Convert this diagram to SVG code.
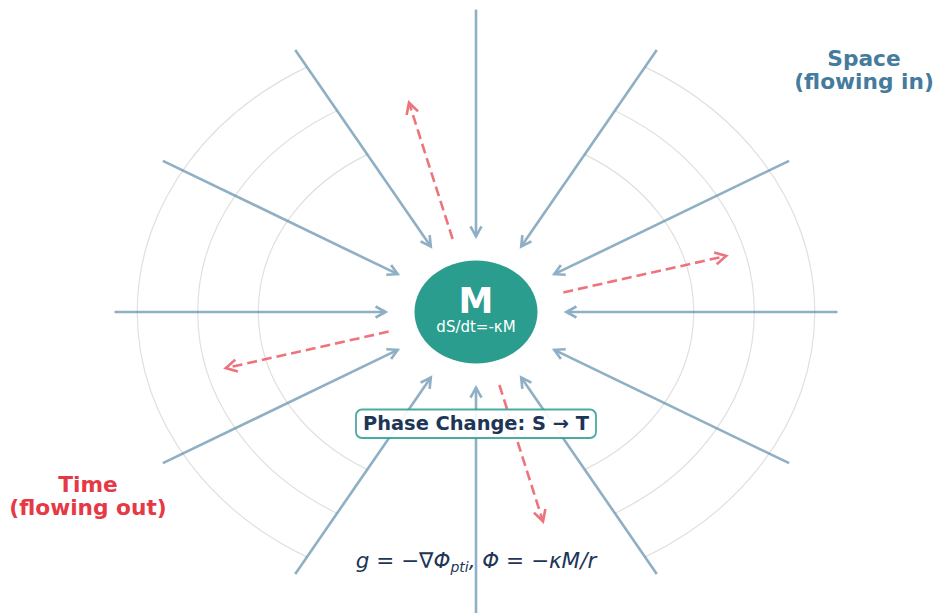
<svg xmlns="http://www.w3.org/2000/svg" width="936" height="613" viewBox="0 0 936 613">
<style>
.ring{fill:none;stroke:#e0e0e0;stroke-width:1.2}
.space line{stroke:#457b9d;stroke-width:2.6;marker-end:url(#hb)}
.time line{stroke:#e63946;stroke-width:2.6;stroke-dasharray:10 5;marker-end:url(#hr)}
.lbl{font-family:"DejaVu Sans",sans-serif;font-weight:bold;text-anchor:middle}
</style>
<defs>
<marker id="hb" markerUnits="userSpaceOnUse" viewBox="-12 -7 14 14" refX="0" refY="0" markerWidth="14" markerHeight="14" orient="auto" overflow="visible">
<path d="M-10,-5.5 L0,0 L-10,5.5" fill="none" stroke="#457b9d" stroke-width="2.6" stroke-linejoin="miter"/>
</marker>
<marker id="hr" markerUnits="userSpaceOnUse" viewBox="-12 -7 14 14" refX="0" refY="0" markerWidth="14" markerHeight="14" orient="auto" overflow="visible">
<path d="M-11,-6 L0,0 L-11,6" fill="none" stroke="#e63946" stroke-width="2.6"/>
</marker>
</defs>
<rect width="936" height="613" fill="#ffffff"/>
<g id="rings">
<path class="ring" d="M306.6,67.1 A338.8,282.8 0 0 0 306.6,556.9"/>
<path class="ring" d="M645.4,556.9 A338.8,282.8 0 0 0 645.4,67.1"/>
<path class="ring" d="M336.9,110.8 A278.3,232.3 0 0 0 336.9,513.2"/>
<path class="ring" d="M615.1,513.2 A278.3,232.3 0 0 0 615.1,110.8"/>
<path class="ring" d="M367.1,154.6 A217.8,181.8 0 0 0 367.1,469.4"/>
<path class="ring" d="M584.9,469.4 A217.8,181.8 0 0 0 584.9,154.6"/>
</g>
<g id="connectors">
<g class="space" opacity="0.6">
<line x1="837.5" y1="312" x2="566.4" y2="312"/>
<line x1="789.1" y1="160.8" x2="554.3" y2="274.2"/>
<line x1="656.75" y1="50.1" x2="521.2" y2="246.5"/>
<line x1="476" y1="9.6" x2="476" y2="236.4"/>
<line x1="295.25" y1="50.1" x2="430.8" y2="246.5"/>
<line x1="162.9" y1="160.8" x2="397.7" y2="274.2"/>
<line x1="114.5" y1="312" x2="385.6" y2="312"/>
<line x1="162.9" y1="463.2" x2="397.7" y2="349.8"/>
<line x1="295.25" y1="573.9" x2="430.8" y2="377.5"/>
<line x1="476" y1="614.4" x2="476" y2="387.6"/>
<line x1="656.75" y1="573.9" x2="521.2" y2="377.5"/>
<line x1="789.1" y1="463.2" x2="554.3" y2="349.8"/>
</g>
<g class="time" opacity="0.7">
<line x1="563.3" y1="292.4" x2="726.2" y2="255.9"/>
<line x1="452.6" y1="239" x2="409" y2="102.7"/>
<line x1="388.7" y1="331.6" x2="225.8" y2="368.1"/>
<line x1="499.4" y1="385" x2="543" y2="521.3"/>
</g>
</g>
<g id="mass">
<ellipse cx="476" cy="312" rx="61.5" ry="51.5" fill="#2a9d8f"/>
<text class="lbl" x="476" y="313" font-size="35" fill="#ffffff">M</text>
<text x="476" y="332" font-family="DejaVu Sans, sans-serif" font-size="15" text-anchor="middle" fill="#ffffff">dS/dt=-κM</text>
</g>
<g id="phase">
<rect x="356" y="409.5" width="240" height="28.5" rx="6" fill="#ffffff" fill-opacity="0.92" stroke="#2a9d8f" stroke-opacity="0.85" stroke-width="1.8"/>
<text class="lbl" x="476" y="430" font-size="19.4" fill="#1d3557">Phase Change: S → T</text>
</g>
<g id="space-label">
<text class="lbl" x="864" y="66" font-size="21.7" fill="#457b9d">Space</text>
<text class="lbl" x="864" y="89" font-size="21.7" fill="#457b9d">(flowing in)</text>
</g>
<g id="time-label">
<text class="lbl" x="88" y="492" font-size="21.7" fill="#e63946">Time</text>
<text class="lbl" x="88" y="515" font-size="21.7" fill="#e63946">(flowing out)</text>
</g>
<g id="formula">
<text x="476" y="568" font-family="DejaVu Sans, sans-serif" font-size="21.5" font-style="italic" text-anchor="middle" fill="#1d3557">g = −∇Φ<tspan font-size="14" dy="4">pti</tspan><tspan dy="-4">, Φ = −κM/r</tspan></text>
</g>
</svg>
